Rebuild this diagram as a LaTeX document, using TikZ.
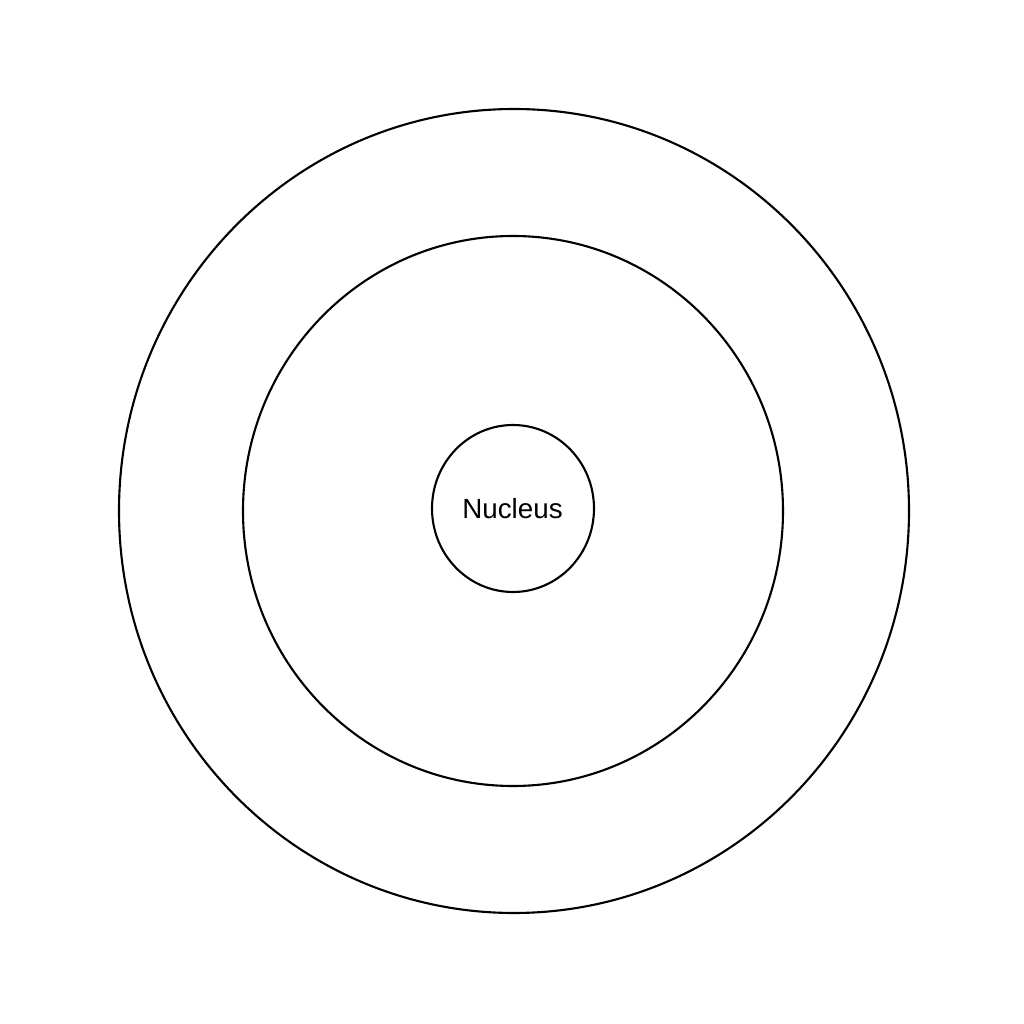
\documentclass[tikz,border=0pt]{standalone}
\usepackage{fontspec}
\setmainfont{Liberation Sans}
\usetikzlibrary{shapes.geometric}
\begin{document}
\begin{tikzpicture}[x=1cm,y=1cm,
  ring/.style={draw=black, line width=0.6pt, ellipse, inner sep=0pt, outer sep=0pt}]
\useasboundingbox (0,0) rectangle (10.24,10.24);
\node[ring, minimum width=7.90cm, minimum height=8.04cm] (outer) at (5.14,5.13) {};
\node[ring, minimum width=5.40cm, minimum height=5.50cm] (middle) at (5.13,5.13) {};
\node[ring, minimum width=1.62cm, minimum height=1.67cm] (nucleus) at (5.13,5.155) {};
\node[font=\fontsize{7.9pt}{9.5pt}\selectfont, inner sep=0pt] (label) at (5.125,5.15) {Nucleus};
\end{tikzpicture}
\end{document}
